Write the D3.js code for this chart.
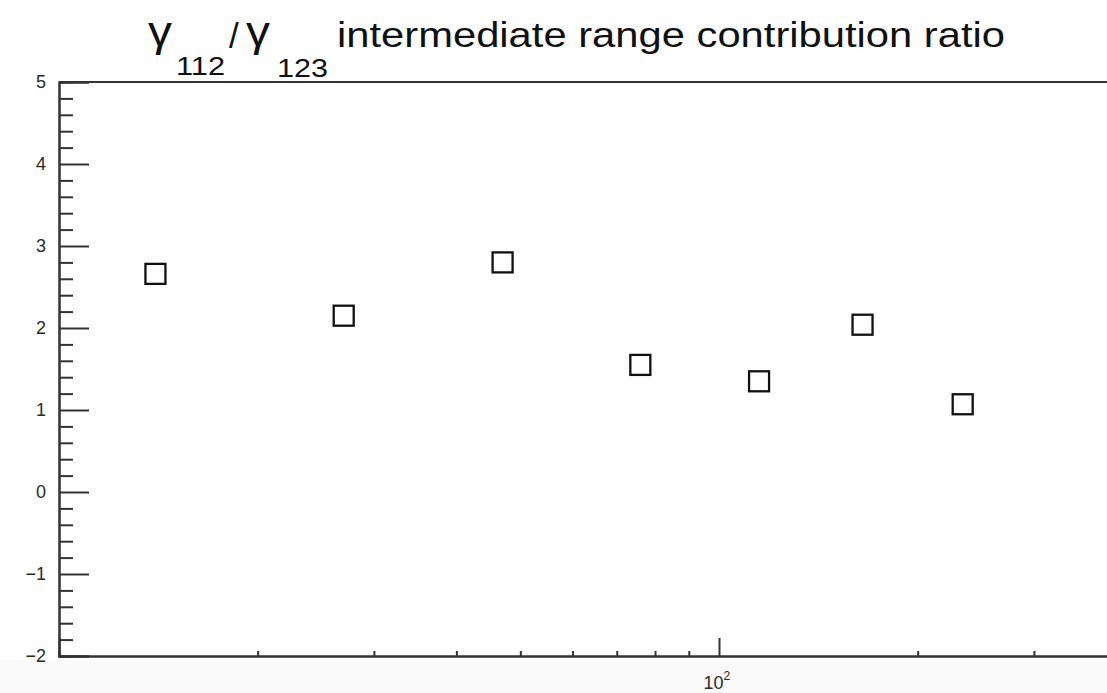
<!DOCTYPE html>
<html>
<head>
<meta charset="utf-8">
<script src="https://cdn.jsdelivr.net/npm/d3@7"></script>
<style>
  html, body { margin: 0; padding: 0; background: #ffffff; }
  svg { display: block; }
  text { font-family: "Liberation Sans", Arial, Helvetica, sans-serif; }
</style>
</head>
<body>
<script>
// ---- data ----
const xValues = [14, 27, 47, 76, 115, 165, 234];
const yValues = [2.66, 2.15, 2.80, 1.55, 1.35, 2.04, 1.07];
const yMajorTicks = [-2, -1, 0, 1, 2, 3, 4, 5];
const xMajorTicks = [100];
const xMinorTicks = [20, 30, 40, 50, 60, 70, 80, 90, 200, 300];
const titleMain = "intermediate range contribution ratio";
const titleSub1 = "112";
const titleSub2 = "123";

const W = 1107, H = 693;
const svg = d3.select("body").append("svg").attr("width", W).attr("height", H);

svg.append("rect").attr("x", 0).attr("y", 0).attr("width", W).attr("height", H).attr("fill", "#ffffff");
svg.append("rect").attr("x", 0).attr("y", 660).attr("width", W).attr("height", H - 660).attr("fill", "#fafafa");

const padL = 59, padT = 82, padB = 656;
const x = d3.scaleLog().domain([10, 400]).range([padL, padL + 660 * Math.log10(40)]);
const y = d3.scaleLinear().domain([-2, 5]).range([padB, padT]);

const axisColor = "#333";

// minor y ticks
const yMinor = [];
for (let v = -2; v < 5; v += 1) for (let k = 1; k < 5; k++) yMinor.push(+(v + k * 0.2).toFixed(2));

const gyMinor = svg.append("g").attr("transform", `translate(${padL},0)`)
  .call(d3.axisLeft(y).tickValues(yMinor).tickSize(-14).tickFormat(""));
const gy = svg.append("g").attr("transform", `translate(${padL},0)`)
  .call(d3.axisLeft(y).tickValues(yMajorTicks).tickSize(-30).tickPadding(13).tickFormat(d3.format("d")));

[gyMinor, gy].forEach(g => {
  g.select(".domain").attr("stroke", axisColor).attr("stroke-width", 2);
  g.selectAll(".tick line").attr("stroke", axisColor).attr("stroke-width", 2);
});
gy.selectAll(".tick text")
  .attr("fill", "#2a2a2a")
  .style("font-size", "18px")
  .style("font-family", "'Liberation Sans', Arial, sans-serif");

// x axis
const gxMinor = svg.append("g").attr("transform", `translate(0,${padB})`)
  .call(d3.axisBottom(x).tickValues(xMinorTicks).tickSize(-5).tickFormat(""));
const gx = svg.append("g").attr("transform", `translate(0,${padB})`)
  .call(d3.axisBottom(x).tickValues(xMajorTicks).tickSize(-18).tickFormat(""));
[gxMinor, gx].forEach(g => {
  g.select(".domain").attr("stroke", axisColor).attr("stroke-width", 2);
  g.selectAll(".tick line").attr("stroke", axisColor).attr("stroke-width", 2);
});
gx.selectAll(".tick").each(function(d) {
  const t = d3.select(this).append("text")
    .attr("x", -16).attr("y", 33).attr("fill", "#2a2a2a").attr("text-anchor", "start")
    .style("font-size", "18px")
    .style("font-family", "'Liberation Sans', Arial, sans-serif");
  const e = Math.round(Math.log10(d));
  t.append("tspan").text("10");
  t.append("tspan").style("font-size", "12px").attr("dy", -9).text(String(e));
});

// top frame line
svg.append("line").attr("x1", padL).attr("x2", W + 10).attr("y1", padT).attr("y2", padT)
  .attr("stroke", axisColor).attr("stroke-width", 2);

// markers: open squares
svg.append("g").selectAll("rect")
  .data(xValues.map((v, i) => [v, yValues[i]]))
  .join("rect")
  .attr("x", d => x(d[0]) - 10)
  .attr("y", d => y(d[1]) - 10)
  .attr("width", 20).attr("height", 20)
  .attr("fill", "none").attr("stroke", "#111").attr("stroke-width", 2.3);

// title
const tg = svg.append("g").attr("fill", "#111");
tg.append("text").attr("x", 148).attr("y", 46).attr("font-size", 42)
  .attr("textLength", 24).attr("lengthAdjust", "spacingAndGlyphs").text("γ");
tg.append("text").attr("x", 176).attr("y", 75).attr("font-size", 25)
  .attr("textLength", 49).attr("lengthAdjust", "spacingAndGlyphs").text(titleSub1);
tg.append("text").attr("x", 229).attr("y", 48).attr("font-size", 35).text("/");
tg.append("text").attr("x", 246).attr("y", 46).attr("font-size", 42)
  .attr("textLength", 24).attr("lengthAdjust", "spacingAndGlyphs").text("γ");
tg.append("text").attr("x", 277).attr("y", 77).attr("font-size", 25)
  .attr("textLength", 51).attr("lengthAdjust", "spacingAndGlyphs").text(titleSub2);
tg.append("text").attr("x", 337).attr("y", 47).attr("font-size", 35)
  .attr("textLength", 668).attr("lengthAdjust", "spacingAndGlyphs").text(titleMain);
</script>
</body>
</html>
